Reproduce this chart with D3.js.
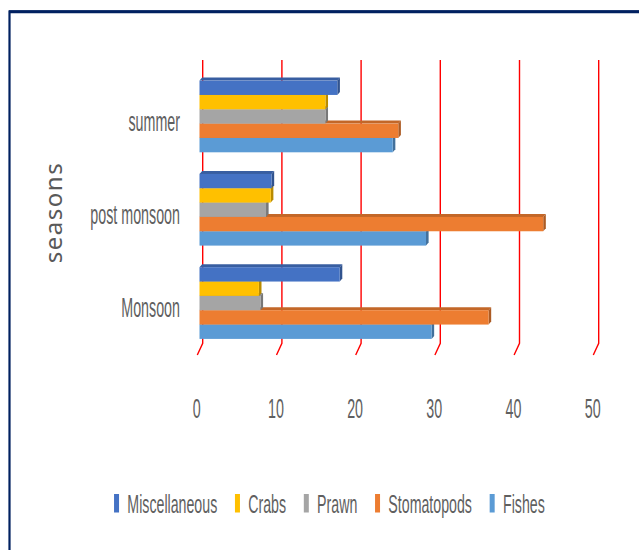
<!DOCTYPE html>
<html>
<head>
<meta charset="utf-8">
<script src="https://cdn.jsdelivr.net/npm/d3@7/dist/d3.min.js"></script>
<style>
  html, body { margin: 0; padding: 0; background: #fff; }
  svg { display: block; }
</style>
</head>
<body>
<svg id="chart" width="639" height="550"></svg>
<script>
// ---- data ----
const seasons = ["summer", "post monsoon", "Monsoon"];
const series = ["Miscellaneous", "Crabs", "Prawn", "Stomatopods", "Fishes"];
const miscellaneous = [17.4, 9.1, 17.7];
const crabs = [15.9, 9.0, 7.5];
const prawn = [15.9, 8.4, 7.7];
const stomatopods = [25.1, 43.4, 36.5];
const fishes = [24.4, 28.6, 29.3];
const xTicks = [0, 10, 20, 30, 40, 50];

const values = [miscellaneous, crabs, prawn, stomatopods, fishes];
const colors = ["#4472C4", "#FFC000", "#A5A5A5", "#ED7D31", "#5B9BD5"];

const svg = d3.select("#chart");

// frame
svg.append("rect").attr("x", 9.5).attr("y", 11.5).attr("width", 700).attr("height", 700)
  .attr("fill", "none").attr("stroke", "#002060").attr("stroke-width", 2.2);
svg.append("line").attr("x1", 9).attr("x2", 639).attr("y1", 11.8).attr("y2", 11.8)
  .attr("stroke", "#002060").attr("stroke-width", 3);

// scales
const xBack = d3.scaleLinear().domain([0, 50]).range([202.7, 598.7]);  // back wall gridlines
const xBar = d3.scaleLinear().domain([0, 50]).range([199.5, 595.5]);   // bar front faces
const y = d3.scaleBand().domain(seasons).range([69.8, 349.7]).paddingInner(0.2315).paddingOuter(0.11575);
const yInner = d3.scaleBand().domain(series).range([0, y.bandwidth()]);

// gridlines with floor kink
const gTop = 60, gKink = 343.3, gBottom = 355, gShift = 5.4;
svg.append("g").selectAll("path").data(xTicks).join("path")
  .attr("d", d => `M${xBack(d)},${gTop} V${gKink} L${xBack(d) - gShift},${gBottom}`)
  .attr("fill", "none").attr("stroke", "#FF0000").attr("stroke-width", 1.4);

// 3D bars
const dx = 2.6, dy = 3;
const bars = [];
seasons.forEach((s, si) => {
  series.forEach((name, k) => {
    bars.push({ s, si, name, k, v: values[k][si] });
  });
});
// draw from bottom bar (Fishes) upward so upper bars hide lower top faces
bars.sort((a, b) => (a.si - b.si) || (b.k - a.k));
const gb = svg.append("g");
bars.forEach(b => {
  const x0 = xBar(0), x1 = xBar(b.v);
  const yy = y(b.s) + yInner(b.name), h = yInner.bandwidth();
  const c = d3.color(colors[b.k]);
  const g = gb.append("g");
  g.append("path")
    .attr("d", `M${x0},${yy} L${x0 + dx},${yy - dy} L${x1 + dx},${yy - dy} L${x1},${yy} Z`)
    .attr("fill", c.darker(0.55));
  g.append("path")
    .attr("d", `M${x1},${yy} L${x1 + dx},${yy - dy} L${x1 + dx},${yy + h - dy} L${x1},${yy + h} Z`)
    .attr("fill", c.darker(0.9));
  g.append("rect").attr("x", x0).attr("y", yy).attr("width", x1 - x0).attr("height", h)
    .attr("fill", colors[b.k]);
});

// narrow text helper
function narrowText(parent, txt, x, yPos, fs, sx, anchor) {
  return parent.append("text")
    .attr("transform", `translate(${x},${yPos}) scale(${sx},1)`)
    .attr("text-anchor", anchor)
    .attr("font-family", "Liberation Sans, Arial, sans-serif")
    .attr("font-size", fs)
    .attr("fill", "#5f5f5f")
    .text(txt);
}

// x tick labels
const gx = svg.append("g");
xTicks.forEach(t => narrowText(gx, String(t), xBack(t) - 6, 418, 28, 0.51, "middle"));

// category labels
const gy = svg.append("g");
seasons.forEach(s => narrowText(gy, s, 180, y(s) + 50, 28, 0.51, "end"));

// axis title
svg.append("text")
  .attr("transform", "translate(61.5,212.5) rotate(-90)")
  .attr("text-anchor", "middle")
  .attr("font-family", "Noto Sans, sans-serif")
  .attr("font-size", 24)
  .attr("letter-spacing", 1.5)
  .attr("fill", "#595959")
  .text("seasons");

// legend
const lg = svg.append("g");
const lsx = 0.546, lfs = 26;
const items = series.map((name, k) => {
  const t = narrowText(lg, name, 0, 513, lfs, lsx, "start");
  return { t, k, w: t.node().getComputedTextLength() * lsx };
});
const mW = 5, mGap = 13.3, itemGap = 17.7;
const total = items.reduce((a, it) => a + mGap + it.w, 0) + itemGap * (items.length - 1);
let cx = 329.4 - total / 2;
items.forEach(it => {
  lg.append("rect").attr("x", cx).attr("y", 494).attr("width", mW).attr("height", 18.5)
    .attr("fill", colors[it.k]);
  it.t.attr("transform", `translate(${cx + mGap},513) scale(${lsx},1)`);
  cx += mGap + it.w + itemGap;
});
</script>
</body>
</html>
